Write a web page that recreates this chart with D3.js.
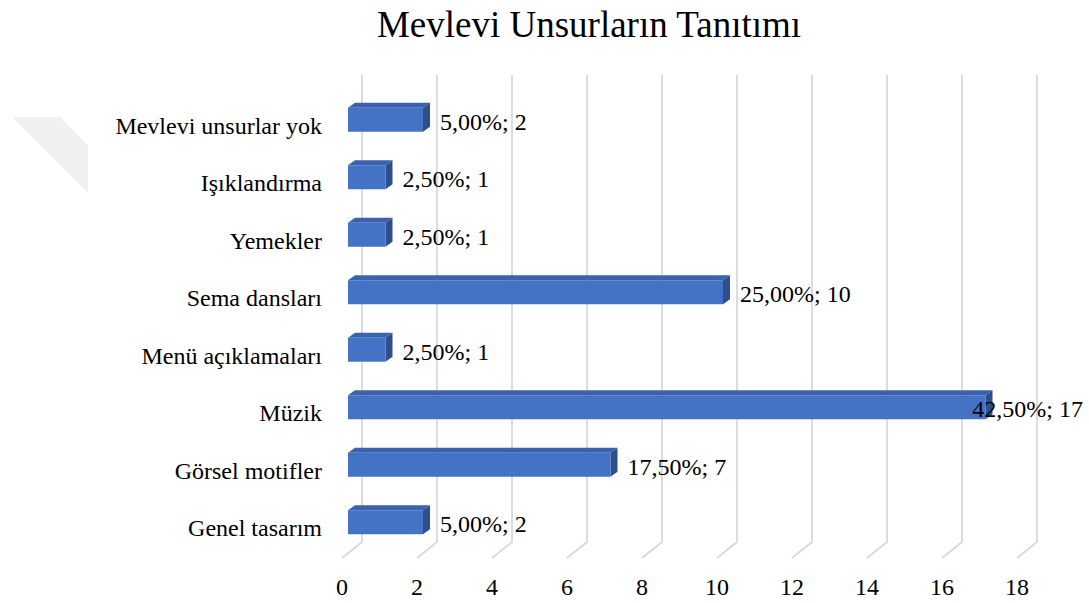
<!DOCTYPE html>
<html>
<head>
<meta charset="utf-8">
<script src="https://cdn.jsdelivr.net/npm/d3@7"></script>
<style>
  body { margin: 0; background: #fff; }
  svg text { font-family: "Liberation Serif", "Times New Roman", Times, "DejaVu Serif", serif; fill: #000; }
</style>
</head>
<body>
<div id="chart"></div>
<script>
const categories = ['Mevlevi unsurlar yok', 'Işıklandırma', 'Yemekler', 'Sema dansları', 'Menü açıklamaları', 'Müzik', 'Görsel motifler', 'Genel tasarım'];
const counts = [2, 1, 1, 10, 1, 17, 7, 2];
const percents = [5.0, 2.5, 2.5, 25.0, 2.5, 42.5, 17.5, 5.0];
const ticks = [0, 2, 4, 6, 8, 10, 12, 14, 16, 18];

const W = 1089, H = 603;
const depthX = 7, depthY = -5;

const svg = d3.select('#chart').append('svg').attr('width', W).attr('height', H);

// faint watermark in the corner
svg.append('polygon')
  .attr('points', '12,117 60,117 88,146 88,193')
  .style('fill', '#f0f0f0');

svg.append('text')
  .attr('x', 589).attr('y', 37)
  .style('text-anchor', 'middle')
  .style('font-size', '37px')
  .text('Mevlevi Unsurların Tanıtımı');

const x = d3.scaleLinear().domain([0, 18]).range([348, 1023]);
const y = d3.scaleBand().domain(categories).range([91, 551]);

// back wall + floor gridlines
const grid = svg.append('g');
ticks.forEach((t) => {
  const bx = x(t) + 14;
  grid.append('path')
    .attr('d', `M${bx},75 L${bx},542 L${bx - 20},558`)
    .style('fill', 'none')
    .style('stroke', '#d9d9d9')
    .style('stroke-width', 1.8);
});

svg.append('g').selectAll('text')
  .data(ticks).enter().append('text')
  .attr('x', (d) => x(d) - 6)
  .attr('y', 595)
  .style('text-anchor', 'middle')
  .style('font-size', '24px')
  .text((d) => d);

svg.append('g').selectAll('text')
  .data(categories).enter().append('text')
  .attr('x', 322)
  .attr('y', (d) => y(d) + y.bandwidth() / 2 + 14)
  .style('text-anchor', 'end')
  .style('font-size', '24px')
  .text((d) => d);

const barH = 24;
const bars = svg.append('g').selectAll('g')
  .data(categories).enter().append('g');

bars.each(function (c, i) {
  const g = d3.select(this);
  const x0 = x(0), x1 = x(counts[i]);
  const top = y(c) + y.bandwidth() / 2 - barH / 2;
  const bot = top + barH;
  // top face
  g.append('path')
    .attr('d', `M${x0},${top} L${x0 + depthX},${top + depthY} L${x1 + depthX},${top + depthY} L${x1},${top} Z`)
    .style('fill', '#3b62ad');
  // side face
  g.append('path')
    .attr('d', `M${x1},${top} L${x1 + depthX},${top + depthY} L${x1 + depthX},${bot + depthY} L${x1},${bot} Z`)
    .style('fill', '#2e4f8c');
  // front face
  g.append('rect')
    .attr('x', x0).attr('y', top)
    .attr('width', x1 - x0).attr('height', barH)
    .style('fill', '#4472c4');
});

// data labels; the one that would run off the right edge is pulled back inside
const fmt = (p) => p.toFixed(2).replace('.', ',') + '%; ';
svg.append('g').selectAll('text')
  .data(categories).enter().append('text')
  .attr('x', (d, i) => x(counts[i]) + depthX + 10)
  .attr('y', (d) => y(d) + y.bandwidth() / 2 + 10)
  .style('font-size', '24px')
  .text((d, i) => fmt(percents[i]) + counts[i])
  .each(function () {
    const w = this.getComputedTextLength();
    const lx = +this.getAttribute('x');
    if (lx + w > W - 6) {
      this.setAttribute('x', W - 6);
      this.style.textAnchor = 'end';
    }
  });
</script>
</body>
</html>
